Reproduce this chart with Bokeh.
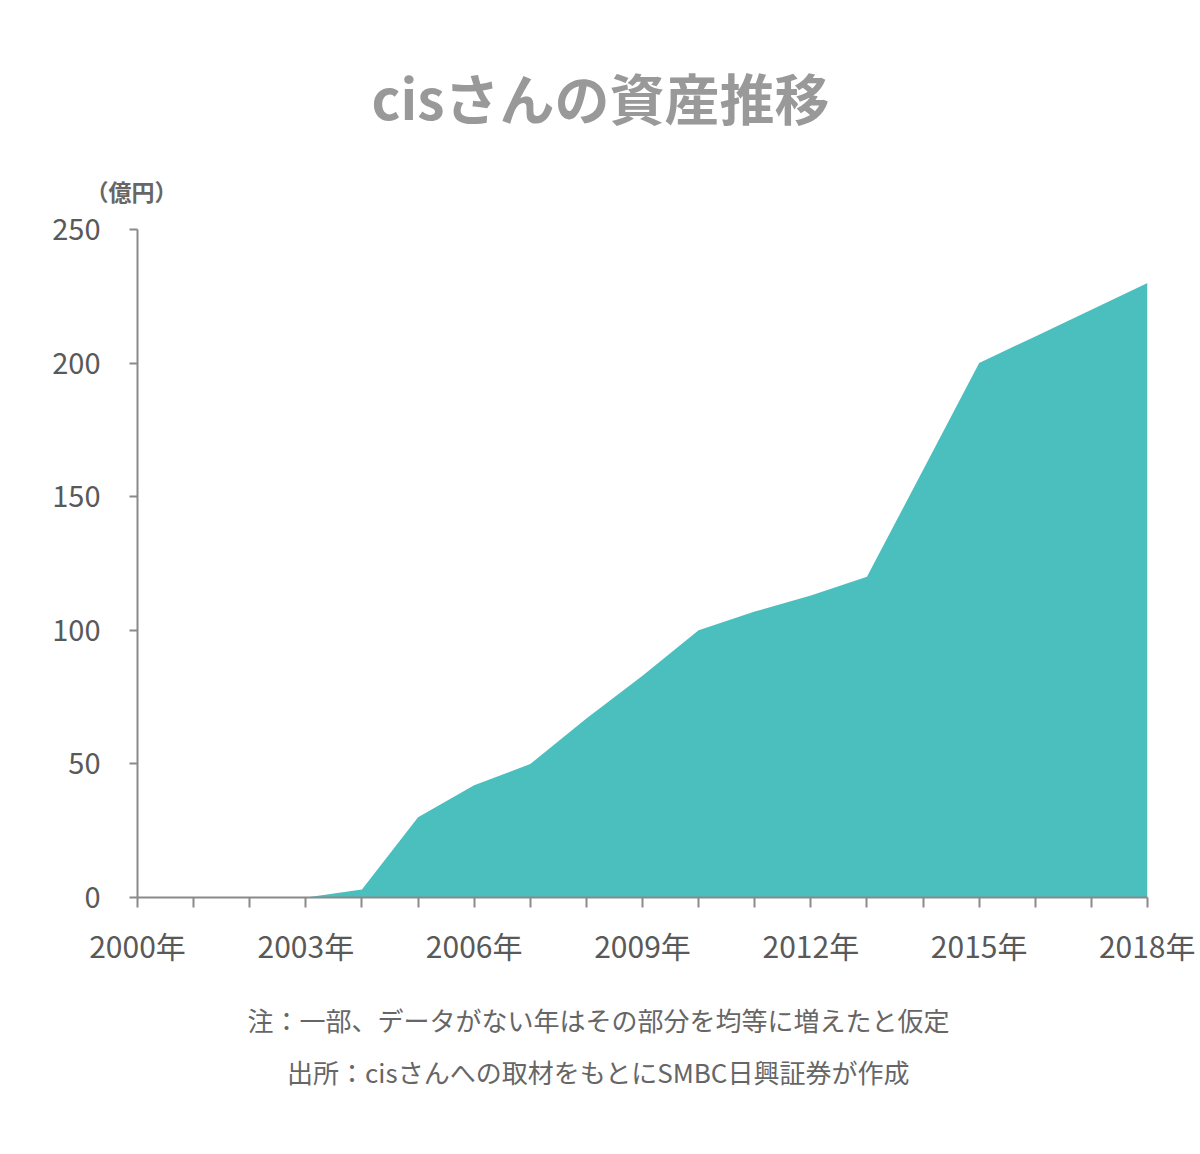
from bokeh.plotting import figure
from bokeh.models import Range1d, FixedTicker, Title
from bokeh.layouts import column
from bokeh.core.properties import value
from bokeh.embed import file_html
from bokeh.resources import INLINE

# ---- data ----
years = list(range(2000, 2019))
assets = [0, 0, 0, 0, 3, 30, 42, 50, 67, 83, 100, 107, 113, 120, 160, 200, 210, 220, 230]
y_ticks = [0, 50, 100, 150, 200, 250]
x_label_years = [2000, 2003, 2006, 2009, 2012, 2015, 2018]
x_label_suffix = "年"
title_text = "cisさんの資産推移"
unit_text = "（億円）"
note_text = "注：一部、データがない年はその部分を均等に増えたと仮定"
source_text = "出所：cisさんへの取材をもとにSMBC日興証券が作成"

FONT = "Noto Sans CJK JP"
W = 1195
TOP_H, MAIN_H, BOT_H = 150, 840, 160
FL, FR = 137, 1147  # frame left / right on the page


def blank_fig(h):
    f = figure(width=W, height=h, output_backend="svg", toolbar_location=None,
               x_range=Range1d(FL, FR), y_range=Range1d(h, 0),
               min_border_left=FL, min_border_right=W - FR,
               min_border_top=0, min_border_bottom=0, outline_line_color=None)
    f.axis.visible = False
    f.grid.visible = False
    return f


# ---- header ----
top = blank_fig(TOP_H)
top.text(x=[600], y=[95], text=[title_text], text_font=value(FONT),
         text_font_size="55px", text_font_style="bold", text_color="#999999",
         text_align="center", text_baseline="middle")

# ---- main chart ----
L, R, T, B = FL, W - FR, 228 - TOP_H, TOP_H + MAIN_H - 897
p = figure(width=W, height=MAIN_H, output_backend="svg", toolbar_location=None,
           x_range=Range1d(2000, 2018), y_range=Range1d(0, 250),
           min_border_left=L, min_border_right=R, min_border_top=T, min_border_bottom=B)
p.outline_line_color = None
p.xgrid.visible = False
p.ygrid.visible = False

p.add_layout(Title(text=unit_text, align="left", offset=-52, standoff=43,
                   text_font=FONT, text_font_size="23px", text_font_style="bold",
                   text_color="#666666"), "above")

p.varea(x=years, y1=[0] * len(years), y2=assets, fill_color="#4BBFBE")

for ax in (p.xaxis[0], p.yaxis[0]):
    ax.axis_line_color = "#8a8a8a"
    ax.axis_line_width = 2
    ax.major_tick_line_color = "#8a8a8a"
    ax.major_tick_line_width = 2
    ax.minor_tick_line_color = None
    ax.major_tick_in = 0
    ax.major_label_text_font = FONT
    ax.major_label_text_color = "#595959"

p.xaxis.ticker = FixedTicker(ticks=years)
p.xaxis.major_tick_out = 10
p.xaxis.major_label_standoff = 15
p.xaxis.major_label_text_font_size = "30px"
p.xaxis.major_label_overrides = {y: (f"{y}{x_label_suffix}" if y in x_label_years else "") for y in years}

p.yaxis.ticker = FixedTicker(ticks=y_ticks)
p.yaxis.major_tick_out = 8
p.yaxis.major_label_standoff = 29
p.yaxis.major_label_text_font_size = "29px"

# ---- footer ----
bot = blank_fig(BOT_H)
for txt, yy in ((note_text, 29), (source_text, 81)):
    bot.text(x=[598], y=[yy], text=[txt], text_font=value(FONT),
             text_font_size="26px", text_color="#666666",
             text_align="center", text_baseline="middle")

layout = column(top, p, bot, spacing=0)
open("out.html", "w").write(file_html(layout, INLINE))
